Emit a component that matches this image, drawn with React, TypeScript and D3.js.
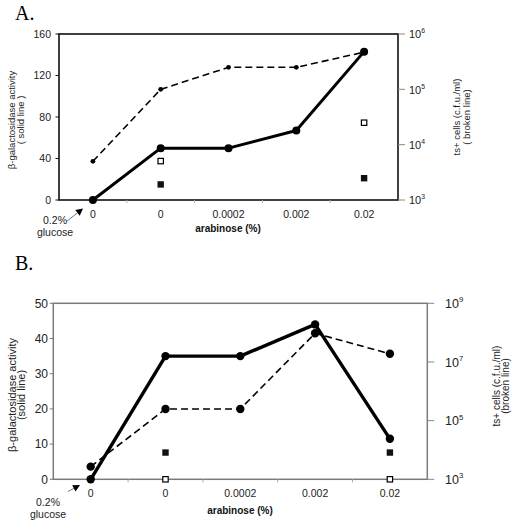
import React from "react";
import * as d3 from "d3";

// ---------- data ----------
const categories = ["0", "0", "0.0002", "0.002", "0.02"];

// Panel A
const aSolid = [0, 50, 50, 67, 143]; // β-galactosidase activity
const aBroken = [5000, 100000, 250000, 250000, 470000]; // ts+ cells (cfu/ml)
const aOpenSq: (number | null)[] = [null, 37.5, null, null, 74.5];
const aFilledSq: (number | null)[] = [null, 15, null, null, 21];
const aLeftTicks = [0, 40, 80, 120, 160];
const aRightExps = [3, 4, 5, 6];

// Panel B
const bSolid = [0, 35, 35, 44, 11.5];
const bBroken = [2700, 250000, 250000, 95000000, 19000000];
const bOpenSq: (number | null)[] = [null, 0, null, null, 0];
const bFilledSq: (number | null)[] = [null, 7.6, null, null, 7.6];
const bLeftTicks = [0, 10, 20, 30, 40, 50];
const bRightExps = [3, 5, 7, 9];

const FONT = "'Liberation Sans', Arial, Helvetica, sans-serif";

type Layout = {
  label: string;
  labelY: number;
  left: number;
  right: number;
  top: number;
  bottom: number;
  leftMax: number;
  logMin: number;
  logMax: number;
  frameColor: string;
  frameWidth: number;
  tickFont: number;
  leftLabelX: number;
  rightLabelX: number;
  rightFont: number;
  xLabelY: number;
  xTitle: [number, number];
  glucoseX: number;
  glucoseY: [number, number];
  arrow: [number, number, number, number];
  leftTitle: [string, string];
  leftTitleX: [number, number];
  leftTitleY: number;
  leftTitleFont: number;
  rightTitle: [string, string];
  rightTitleX: [number, number];
  rightTitleY: number;
  rightTitleFont: number;
  solidR: number;
  brokenR: number;
  solidW: number;
};

const layoutA: Layout = {
  label: "A.",
  labelY: 20,
  left: 59,
  right: 398,
  top: 34,
  bottom: 200,
  leftMax: 160,
  logMin: 3,
  logMax: 6,
  frameColor: "#111",
  frameWidth: 1.6,
  tickFont: 10.5,
  leftLabelX: 51,
  rightLabelX: 409,
  rightFont: 11,
  xLabelY: 217.5,
  xTitle: [228, 232],
  glucoseX: 55,
  glucoseY: [224, 235.5],
  arrow: [66.5, 221.5, 83, 208.5],
  leftTitle: ["β-galactosidase  activity", "( solid line )"],
  leftTitleX: [11.5, 20.5],
  leftTitleY: 120,
  leftTitleFont: 9.5,
  rightTitle: ["ts+ cells (c.f.u./ml)", "( broken line)"],
  rightTitleX: [457, 467],
  rightTitleY: 117,
  rightTitleFont: 9.5,
  solidR: 4,
  brokenR: 2.4,
  solidW: 3,
};

const layoutB: Layout = {
  label: "B.",
  labelY: 270,
  left: 53.3,
  right: 427.3,
  top: 303.3,
  bottom: 479.3,
  leftMax: 50,
  logMin: 3,
  logMax: 9,
  frameColor: "#7a7a7a",
  frameWidth: 1.5,
  tickFont: 12,
  leftLabelX: 48,
  rightLabelX: 445,
  rightFont: 12.5,
  xLabelY: 497,
  xTitle: [240, 514],
  glucoseX: 48,
  glucoseY: [505.5, 518],
  arrow: [68, 491.5, 80, 485],
  leftTitle: ["β-galactosidase activity", "(solid line)"],
  leftTitleX: [12, 21.5],
  leftTitleY: 395,
  leftTitleFont: 11,
  rightTitle: ["ts+ cells (c.f.u./ml)", "(broken line)"],
  rightTitleX: [496, 505.5],
  rightTitleY: 386,
  rightTitleFont: 10,
  solidR: 4.2,
  brokenR: 4.2,
  solidW: 3.4,
};

type PanelProps = {
  L: Layout;
  solid: number[];
  broken: number[];
  openSq: (number | null)[];
  filledSq: (number | null)[];
  leftTicks: number[];
  rightExps: number[];
  id: string;
};

function Panel({ L, solid, broken, openSq, filledSq, leftTicks, rightExps, id }: PanelProps) {
  const x = d3
    .scaleBand<number>()
    .domain(d3.range(categories.length))
    .range([L.left, L.right])
    .padding(0);
  const cx = (i: number) => (x(i) as number) + x.bandwidth() / 2;
  const yL = d3.scaleLinear().domain([0, L.leftMax]).range([L.bottom, L.top]);
  const yR = d3
    .scaleLog()
    .domain([Math.pow(10, L.logMin), Math.pow(10, L.logMax)])
    .range([L.bottom, L.top]);

  const solidLine = d3
    .line<number>()
    .x((_, i) => cx(i))
    .y((d) => yL(d));
  const brokenLine = d3
    .line<number>()
    .x((_, i) => cx(i))
    .y((d) => yR(d));

  const sq = 6.4;
  const [ax1, ay1, ax2, ay2] = L.arrow;
  const ang = Math.atan2(ay2 - ay1, ax2 - ax1);
  const ah = 7,
    aw = 3.6;
  const bx = ax2 - ah * Math.cos(ang),
    by = ay2 - ah * Math.sin(ang);
  const arrowHead = [
    [ax2, ay2],
    [bx + aw * Math.sin(ang), by - aw * Math.cos(ang)],
    [bx - aw * Math.sin(ang), by + aw * Math.cos(ang)],
  ]
    .map((p) => p.join(","))
    .join(" ");

  return (
    <g key={id} fontFamily={FONT}>
      <text
        x={15}
        y={L.labelY}
        fontFamily="'Liberation Serif', 'Times New Roman', serif"
        fontSize={20}
        fill="#000"
      >
        {L.label}
      </text>

      {/* frame */}
      <rect
        x={L.left}
        y={L.top}
        width={L.right - L.left}
        height={L.bottom - L.top}
        fill="none"
        stroke={L.frameColor}
        strokeWidth={L.frameWidth}
      />

      {/* left ticks */}
      {leftTicks.map((t) => (
        <g key={"lt" + t}>
          <line x1={L.left - 3.5} x2={L.left} y1={yL(t)} y2={yL(t)} stroke={L.frameColor} strokeWidth={1} />
          <text
            x={L.leftLabelX}
            y={yL(t)}
            dy="0.35em"
            textAnchor="end"
            fontSize={L.tickFont}
            fill="#222"
          >
            {t}
          </text>
        </g>
      ))}

      {/* right log ticks */}
      {rightExps.map((e) => (
        <g key={"rt" + e}>
          <line
            x1={L.right}
            x2={L.right + 7}
            y1={yR(Math.pow(10, e))}
            y2={yR(Math.pow(10, e))}
            stroke="#888"
            strokeWidth={1}
          />
          <text x={L.rightLabelX} y={yR(Math.pow(10, e))} dy="0.38em" fontSize={L.rightFont} fill="#222">
            <tspan>10</tspan>
            <tspan dy={-L.rightFont * 0.45} fontSize={L.rightFont * 0.62}>
              {e}
            </tspan>
          </text>
        </g>
      ))}

      {/* x category boundary ticks */}
      {d3.range(1, categories.length).map((i) => (
        <line
          key={"xb" + i}
          x1={x(i) as number}
          x2={x(i) as number}
          y1={L.bottom}
          y2={L.bottom + 3}
          stroke="#aaa"
          strokeWidth={1}
        />
      ))}

      {/* x labels */}
      {categories.map((c, i) => (
        <text key={"xl" + i} x={cx(i)} y={L.xLabelY} textAnchor="middle" fontSize={10.5} fill="#222">
          {c}
        </text>
      ))}
      <text x={L.xTitle[0]} y={L.xTitle[1]} textAnchor="middle" fontSize={10} fontWeight="bold" fill="#111">
        arabinose (%)
      </text>

      {/* glucose annotation */}
      <text x={L.glucoseX} y={L.glucoseY[0]} textAnchor="middle" fontSize={10.5} fill="#222">
        0.2%
      </text>
      <text x={L.glucoseX} y={L.glucoseY[1]} textAnchor="middle" fontSize={10.5} fill="#222">
        glucose
      </text>
      <line x1={ax1} y1={ay1} x2={bx} y2={by} stroke="#555" strokeWidth={0.8} />
      <polygon points={arrowHead} fill="#000" />

      {/* axis titles */}
      {L.leftTitle.map((t, k) => (
        <text
          key={"ltt" + k}
          transform={`translate(${L.leftTitleX[k]},${L.leftTitleY}) rotate(-90)`}
          textAnchor="middle"
          dy="0.35em"
          fontSize={L.leftTitleFont}
          fill="#222"
        >
          {t}
        </text>
      ))}
      {L.rightTitle.map((t, k) => (
        <text
          key={"rtt" + k}
          transform={`translate(${L.rightTitleX[k]},${L.rightTitleY}) rotate(-90)`}
          textAnchor="middle"
          dy="0.35em"
          fontSize={L.rightTitleFont}
          fill="#222"
        >
          {t}
        </text>
      ))}

      {/* broken line */}
      <path d={brokenLine(broken) || ""} fill="none" stroke="#000" strokeWidth={1.6} strokeDasharray="7,4" />
      {broken.map((v, i) => (
        <circle key={"bp" + i} cx={cx(i)} cy={yR(v)} r={L.brokenR} fill="#000" />
      ))}

      {/* solid line */}
      <path d={solidLine(solid) || ""} fill="none" stroke="#000" strokeWidth={L.solidW} strokeLinejoin="round" />
      {solid.map((v, i) => (
        <circle key={"sp" + i} cx={cx(i)} cy={yL(v)} r={L.solidR} fill="#000" />
      ))}

      {/* squares */}
      {filledSq.map((v, i) =>
        v === null ? null : (
          <rect key={"fs" + i} x={cx(i) - sq / 2} y={yL(v) - sq / 2} width={sq} height={sq} fill="#111" />
        )
      )}
      {openSq.map((v, i) =>
        v === null ? null : (
          <rect
            key={"os" + i}
            x={cx(i) - sq / 2 + 0.5}
            y={yL(v) - sq / 2 + 0.5}
            width={sq - 1}
            height={sq - 1}
            fill="#fff"
            stroke="#000"
            strokeWidth={1.2}
          />
        )
      )}
    </g>
  );
}

export default function App() {
  return (
    <svg
      width={514}
      height={524}
      style={{ position: "absolute", left: 0, top: 0, background: "#fff" }}
    >
      <rect width={514} height={524} fill="#fff" />
      <Panel
        id="A"
        L={layoutA}
        solid={aSolid}
        broken={aBroken}
        openSq={aOpenSq}
        filledSq={aFilledSq}
        leftTicks={aLeftTicks}
        rightExps={aRightExps}
      />
      <Panel
        id="B"
        L={layoutB}
        solid={bSolid}
        broken={bBroken}
        openSq={bOpenSq}
        filledSq={bFilledSq}
        leftTicks={bLeftTicks}
        rightExps={bRightExps}
      />
    </svg>
  );
}
